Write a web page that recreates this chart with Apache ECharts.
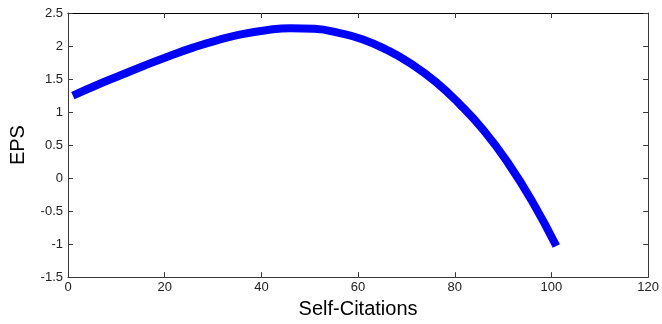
<!DOCTYPE html>
<html>
<head>
<meta charset="utf-8">
<script src="https://cdn.jsdelivr.net/npm/echarts@6/dist/echarts.min.js"></script>
<style>
  html, body { margin: 0; padding: 0; background: #fff; }
  #chart { width: 662px; height: 324px; }
</style>
</head>
<body>
<div id="chart"></div>
<script>
// values
var selfCitations = [1, 6, 11, 16, 21, 26, 31, 36, 41, 46, 51, 56, 61, 66, 71, 76, 81, 86, 91, 96, 101];
var eps = [1.25, 1.41, 1.56, 1.71, 1.85, 1.98, 2.09, 2.18, 2.24, 2.27, 2.26, 2.20, 2.10, 1.94, 1.73, 1.46, 1.12, 0.72, 0.23, -0.35, -1.03];
var xTicks = [0, 20, 40, 60, 80, 100, 120];
var yTicks = [-1.5, -1, -0.5, 0, 0.5, 1, 1.5, 2, 2.5];

var axisColor = '#3a3a3a';
var font = 'Liberation Sans, Arial, sans-serif';

var points = selfCitations.map(function (x, i) { return [x, eps[i]]; });

var myChart = echarts.init(document.getElementById('chart'));

var option = {
  backgroundColor: '#fff',
  animation: false,
  grid: { left: 67, right: 13, top: 13, bottom: 43 },
  xAxis: [
    {
      type: 'value', min: xTicks[0], max: xTicks[xTicks.length - 1], interval: 20,
      name: 'Self-Citations', nameLocation: 'middle', nameGap: 17,
      nameTextStyle: { fontFamily: font, fontSize: 20, color: '#000' },
      axisLine: { show: true, onZero: false, lineStyle: { color: axisColor, width: 1 } },
      axisTick: { show: true, inside: true, length: 5, lineStyle: { color: axisColor } },
      axisLabel: { fontFamily: font, fontSize: 13, color: '#222', margin: 4 },
      splitLine: { show: false }
    },
    {
      type: 'value', position: 'top', min: xTicks[0], max: xTicks[xTicks.length - 1], interval: 20,
      axisLine: { show: true, onZero: false, lineStyle: { color: '#000', width: 1 } },
      axisTick: { show: true, inside: true, length: 5, lineStyle: { color: axisColor } },
      axisLabel: { show: false },
      splitLine: { show: false }
    }
  ],
  yAxis: [
    {
      type: 'value', min: yTicks[0], max: yTicks[yTicks.length - 1], interval: 0.5,
      name: 'EPS', nameLocation: 'middle', nameGap: 40, nameRotate: 90,
      nameTextStyle: { fontFamily: font, fontSize: 20, color: '#000' },
      axisLine: { show: true, onZero: false, lineStyle: { color: axisColor, width: 1 } },
      axisTick: { show: true, inside: true, length: 5, lineStyle: { color: axisColor } },
      axisLabel: { fontFamily: font, fontSize: 13, color: '#222', margin: 5 },
      splitLine: { show: false }
    },
    {
      type: 'value', position: 'right', min: yTicks[0], max: yTicks[yTicks.length - 1], interval: 0.5,
      axisLine: { show: true, onZero: false, lineStyle: { color: axisColor, width: 1 } },
      axisTick: { show: true, inside: true, length: 5, lineStyle: { color: axisColor } },
      axisLabel: { show: false },
      splitLine: { show: false }
    }
  ],
  series: [
    {
      type: 'line',
      xAxisIndex: 0,
      yAxisIndex: 0,
      data: points,
      smooth: true,
      showSymbol: false,
      lineStyle: { color: '#0000ff', width: 8, cap: 'butt' }
    }
  ]
};

myChart.setOption(option);
</script>
</body>
</html>
